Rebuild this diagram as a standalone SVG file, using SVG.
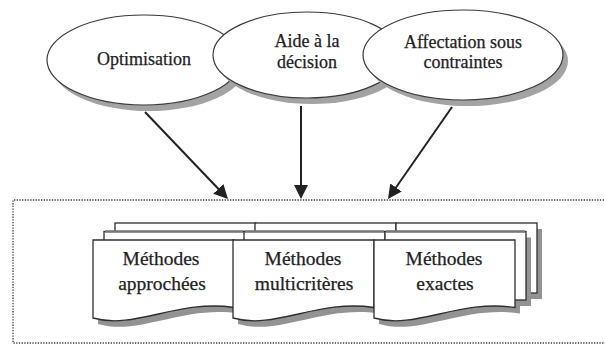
<svg xmlns="http://www.w3.org/2000/svg" xmlns:xlink="http://www.w3.org/1999/xlink" width="605" height="345" viewBox="0 0 605 345">
  <style>
    .bubble { fill: #ffffff; stroke: #3a3a3a; stroke-width: 1.2; }
    .bubble-shade { fill: #a3a3a3; }
    .page { fill: #ffffff; stroke: #2e2e2e; stroke-width: 1.3; }
    .page-shade { fill: #939393; }
    .page-rim { fill: none; stroke: #7a7a7a; stroke-width: 2.4; }
    .frame { fill: none; stroke: #3c3c3c; stroke-width: 1.3; stroke-dasharray: 1.3 1.4; }
    .link { stroke: #222222; stroke-width: 2; fill: none; marker-end: url(#head); }
    .label { font-family: 'Liberation Serif', 'DejaVu Serif', serif; fill: #222222; stroke: #222222; stroke-width: 0.25; text-anchor: middle; }
    .l-top { font-size: 18px; }
    .l-doc { font-size: 19.5px; }
  </style>
  <defs>
    <marker id="head" viewBox="0 0 14 14" refX="11" refY="7" markerWidth="14" markerHeight="14" markerUnits="userSpaceOnUse" orient="auto">
      <path d="M0,0 L14,7 L0,14 Z" fill="#222222"/>
    </marker>
    <!-- stacked-pages shape; x is relative to the front page's left edge -->
    <g id="multidoc">
      <path class="page-shade" transform="translate(5,6)" d="M0,240 H141 V307.5 C84.6,299 42.3,330 0,318 Z"/>
      <rect class="page-shade" x="27" y="229" width="141" height="70"/>
      <rect class="page" x="22" y="223" width="141" height="70"/>
      <rect class="page-shade" x="16" y="237.5" width="141" height="68.5"/>
      <rect class="page" x="11" y="231.5" width="141" height="68.5"/>
      <path class="page-rim" d="M12,231.5 H151"/>
      <path class="page" d="M0,240 H141 V307.5 C84.6,299 42.3,330 0,318 Z"/>
    </g>
  </defs>

  <rect width="605" height="345" fill="#ffffff"/>

  <!-- dashed container of the method families (open on the right) -->
  <g id="methods-frame">
    <path class="frame" d="M612,200 H13 V343 H612"/>
  </g>

  <!-- objective bubbles -->
  <g id="optimisation">
    <ellipse class="bubble-shade" cx="149" cy="66" rx="97" ry="45"/>
    <ellipse class="bubble" cx="144" cy="60" rx="97" ry="45"/>
    <text class="label l-top" x="144" y="65">Optimisation</text>
  </g>
  <g id="aide-decision">
    <ellipse class="bubble-shade" cx="312" cy="61" rx="94" ry="43"/>
    <ellipse class="bubble" cx="307" cy="55" rx="94" ry="43"/>
    <text class="label l-top" x="307" y="47">Aide à la</text>
    <text class="label l-top" x="307" y="68">décision</text>
  </g>
  <g id="affectation">
    <ellipse class="bubble-shade" cx="468" cy="61" rx="100" ry="45"/>
    <ellipse class="bubble" cx="463" cy="55" rx="100" ry="45"/>
    <text class="label l-top" x="463" y="48">Affectation sous</text>
    <text class="label l-top" x="463" y="68">contraintes</text>
  </g>

  <!-- method families -->
  <g id="methodes-approchees">
    <use xlink:href="#multidoc" href="#multidoc" transform="translate(93,0)"/>
    <text class="label l-doc" x="161" y="265">Méthodes</text>
    <text class="label l-doc" x="162" y="290">approchées</text>
  </g>
  <g id="methodes-multicriteres">
    <use xlink:href="#multidoc" href="#multidoc" transform="translate(233,0)"/>
    <text class="label l-doc" x="303" y="265">Méthodes</text>
    <text class="label l-doc" x="304" y="290">multicritères</text>
  </g>
  <g id="methodes-exactes">
    <use xlink:href="#multidoc" href="#multidoc" transform="translate(374,0)"/>
    <text class="label l-doc" x="444" y="265">Méthodes</text>
    <text class="label l-doc" x="445" y="290">exactes</text>
  </g>

  <!-- connectors -->
  <g id="connectors">
    <line class="link" x1="145" y1="112" x2="225.9" y2="196.8"/>
    <line class="link" x1="301" y1="106" x2="301" y2="196"/>
    <line class="link" x1="452" y1="107" x2="389.7" y2="196.5"/>
  </g>
</svg>
